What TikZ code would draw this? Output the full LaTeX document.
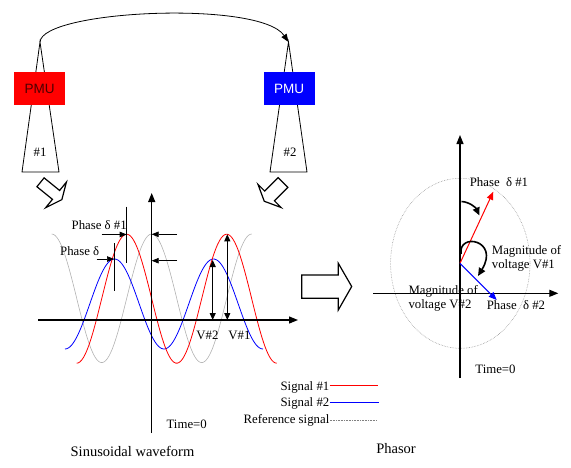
\documentclass[tikz,border=0pt]{standalone}
\usepackage{fontspec}
\setmainfont{Liberation Serif}
\newfontfamily\armfont{Liberation Sans}
\usetikzlibrary{arrows.meta}
\definecolor{sigred}{RGB}{255,0,0}
\definecolor{sigblue}{RGB}{0,0,255}
\begin{document}
\begin{tikzpicture}[x=1pt,y=-1pt,
  lab/.style={font=\fontsize{12.8}{14}\selectfont, inner sep=0pt},
  big/.style={font=\fontsize{14.5}{16}\selectfont, inner sep=0pt},
  axis/.style={line width=1.2pt, -{Triangle[length=9pt,width=7pt]}},
  ann/.style={line width=0.7pt, -{Triangle[length=7pt,width=5.5pt]}},
  dbl/.style={line width=1pt, {Triangle[length=7pt,width=6pt]}-{Triangle[length=7pt,width=6pt]}},
  guide/.style={line width=0.7pt},
  tower/.style={line width=0.8pt},
  pmu/.style={font=\armfont\fontsize{13.5}{15}\selectfont, minimum width=51pt, minimum height=33pt, inner sep=0pt},
  hollow/.style={line width=1.2pt, line join=miter, fill=white},
  refline/.style={gray!60, line width=0.6pt},
  curvearr/.style={line width=1.6pt, -{Triangle[length=8pt,width=7pt]}},
]
\useasboundingbox (0,0) rectangle (571,467);

% ---------------- towers and PMUs
\coordinate (a1) at (40,42);
\coordinate (b1l) at (22,172);
\coordinate (b1r) at (59,172);
\draw[tower] (b1l) -- (a1) -- (b1r) -- cycle;
\node[pmu, fill=red, text=red!30!black] (pmu1) at (39.5,88.5) {PMU};
\node[lab] (n1) at (40,152) {\#1};

\coordinate (a2) at (288.5,42);
\coordinate (b2l) at (270,172);
\coordinate (b2r) at (307,172);
\draw[tower] (b2l) -- (a2) -- (b2r) -- cycle;
\node[pmu, fill=blue, text=white] (pmu2) at (289,88.5) {PMU};
\node[lab] (n2) at (290,152) {\#2};

\draw[line width=0.8pt, -{Triangle[length=8pt,width=6pt]}] (a1) .. controls (42,10) and (260,0) .. (a2);

% ---------------- hollow arrows
\begin{scope}[shift={(40.5,182.3)}, rotate=-39]
  \draw[hollow] (0,-5.7) -- (20,-5.7) -- (20,-16.5) -- (27.5,0) -- (20,16.5) -- (20,5.7) -- (0,5.7) -- cycle;
\end{scope}
\begin{scope}[shift={(283,182.5)}, rotate=-135]
  \draw[hollow] (0,-6.9) -- (19,-6.9) -- (19,-16.4) -- (26.5,0) -- (19,16.4) -- (19,6.9) -- (0,6.9) -- cycle;
\end{scope}
\draw[hollow] (301.7,275) -- (338.3,275) -- (338.3,263.3) -- (351.7,286.5) -- (338.3,310) -- (338.3,298.3) -- (301.7,298.3) -- cycle;

% ---------------- waveform
\draw[refline] plot[smooth, samples=120, domain=51.7:251.7] ({\x},{298.3-64.3*cos(3.6*(\x-151.7))});
\draw[blue, line width=0.8pt] plot[smooth, samples=120, domain=65:263] ({\x},{304-45*cos(360/99*(\x-114.5))});
\draw[red, line width=0.8pt] plot[smooth, samples=120, domain=76.7:276.7] ({\x},{298.7-64.5*cos(3.6*(\x-126.7))});

\coordinate (wxl) at (38,320);
\coordinate (wxr) at (298,320);
\coordinate (wyb) at (151.7,433);
\coordinate (wyt) at (151.7,193);
\draw[axis] (wxl) -- (wxr);
\draw[axis] (wyb) -- (wyt);

% phase annotations
\coordinate (v1t) at (126.7,206.7);
\coordinate (v1b) at (126.7,262.7);
\coordinate (v2t) at (114,243);
\coordinate (v2b) at (114,291);
\draw[guide] (v1t) -- (v1b);
\draw[guide] (v2t) -- (v2b);
\coordinate (p1s) at (101.7,234.5);
\coordinate (p1e) at (126.7,234.5);
\coordinate (p2s) at (96.7,259);
\coordinate (p2e) at (114,259);
\draw[ann] (p1s) -- (p1e);
\draw[ann] (p2s) -- (p2e);
\node[lab] (ph1) at (99.2,225) {Phase δ \#1};
\node[lab] (ph) at (79.7,251) {Phase δ};

\coordinate (r1s) at (177,234.3);
\coordinate (r1e) at (151.7,234.3);
\coordinate (r2s) at (177,260.7);
\coordinate (r2e) at (151.7,260.7);
\draw[ann] (r1s) -- (r1e);
\draw[ann] (r2s) -- (r2e);

\coordinate (m2t) at (212.7,260);
\coordinate (m2b) at (212.7,320);
\coordinate (m1t) at (227.3,234.3);
\coordinate (m1b) at (227.3,320);
\draw[dbl] (m2t) -- (m2b);
\draw[dbl] (m1t) -- (m1b);
\node[lab] (lv2) at (207.5,335) {V\#2};
\node[lab] (lv1) at (239.5,335) {V\#1};
\node[lab] (t0a) at (186.7,424) {Time=0};

% legend
\node[lab, anchor=east] (s1) at (329.5,387.7) {Signal \#1};
\node[lab, anchor=east] (s2) at (329.5,403.3) {Signal \#2};
\node[lab, anchor=east] (s3) at (329.5,420.7) {Reference signal};
\coordinate (s1b) at (329.5,385.7);
\coordinate (s1e) at (378,385.7);
\coordinate (s2b) at (329.5,402.3);
\coordinate (s2e) at (378.5,402.3);
\coordinate (s3b) at (329.5,420);
\coordinate (s3e) at (377,420);
\draw[sigred, line width=1.4pt] (s1b) -- (s1e);
\draw[sigblue, line width=1.4pt] (s2b) -- (s2e);
\draw[gray, line width=0.6pt, densely dotted] (s3b) -- (s3e);

\node[big] (cap1) at (132.5,451) {Sinusoidal waveform};
\node[big] (cap2) at (396,449) {Phasor};

% ---------------- phasor
\draw[gray!80, line width=0.6pt, densely dotted] (460.3,263.3) ellipse [x radius=69.7pt, y radius=85pt];
\coordinate (hxl) at (373.3,293.3);
\coordinate (hxr) at (558.3,293.3);
\coordinate (hyb) at (460,378);
\coordinate (hyt) at (460,135);
\draw[axis] (hxl) -- (hxr);
\draw[axis] (hyb) -- (hyt);

\coordinate (o) at (460,263.3);
\coordinate (rt) at (493.3,191.7);
\coordinate (bt) at (496.7,300);
\draw[red, line width=1pt, -{Triangle[length=8pt,width=6.5pt]}] (o) -- (rt);
\draw[blue, line width=1pt, -{Triangle[length=8pt,width=6.5pt]}] (o) -- (bt);

\coordinate (c1s) at (461.5,201.5);
\coordinate (c1e) at (479.5,215.5);
\draw[curvearr] (c1s) .. controls (470,202) and (476,208) .. (c1e);
\coordinate (c2s) at (461,254);
\coordinate (c2e) at (478,276);
\draw[curvearr] (c2s) .. controls (458,232) and (500,240) .. (c2e);

\node[lab] (q1) at (499,181.7) {Phase~~δ \#1};
\node[lab, anchor=west, align=left] (q2) at (491.7,258) {Magnitude of\\voltage V\#1};
\node[lab, anchor=west, align=left] (q3) at (408.3,298) {Magnitude of\\voltage V\#2};
\node[lab] (q4) at (516,305) {Phase~~δ \#2};
\node[lab] (t0b) at (495.5,369) {Time=0};
\end{tikzpicture}
\end{document}
